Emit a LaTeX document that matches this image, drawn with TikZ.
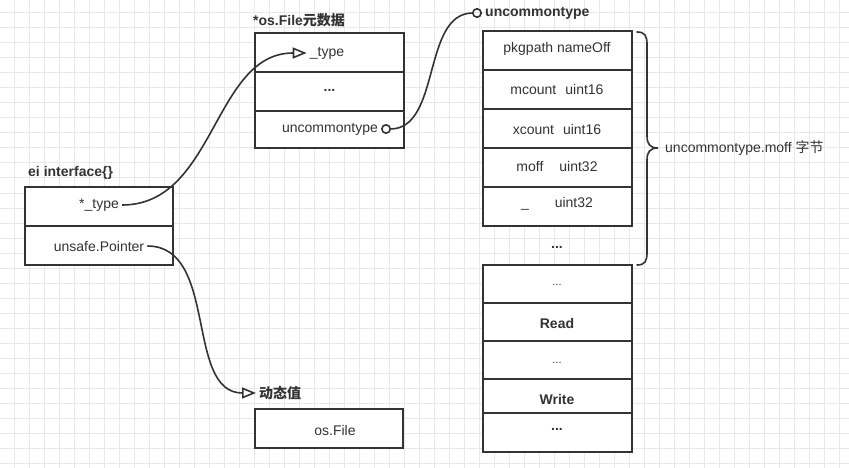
\documentclass[tikz,border=0pt]{standalone}
\usepackage{fontspec}
\setmainfont{Liberation Sans}
\newfontfamily\cjk{Noto Sans CJK SC}
\usetikzlibrary{arrows.meta}
\definecolor{linec}{HTML}{333333}
\definecolor{txtc}{HTML}{333333}
\definecolor{gridc}{HTML}{E8E8E8}

\begin{document}
\begin{tikzpicture}[x=1pt,y=-1pt,
    box/.style={draw=linec, line width=1.6pt, fill=white},
    lbl/.style={text=txtc, inner sep=3pt, font=\fontsize{14}{16}\selectfont},
    ttl/.style={text=txtc, inner sep=3pt, anchor=west, font=\fontsize{14}{16}\selectfont\bfseries},
    link/.style={draw=linec, line width=1.6pt}]
            \useasboundingbox (0,0) rectangle (849,468);
            %mriezka
            \fill[white] (0,0) rectangle (849,468);
            \foreach \x in {14,29,...,844} \draw[gridc, line width=1pt] (\x,0) -- (\x,468);
            \foreach \y in {13,28,...,463} \draw[gridc, line width=1pt] (0,\y) -- (849,\y);

            %ei interface{}
            \node[ttl] (eil) at (25,173) {ei interface\{\}};
            \draw[box] (25,187) rectangle (173,226);
            \draw[box] (25,226) rectangle (173,265);
            \node[lbl] (ety) at (99,205) {*\_type};
            \node[lbl] (eptr) at (99,246) {unsafe.Pointer};

            %*os.File元数据
            \node[ttl] (ofl) at (250,20) {*os.File{\cjk 元数据}};
            \draw[box] (255,33) rectangle (404,72);
            \draw[box] (255,72) rectangle (404,111);
            \draw[box] (255,111) rectangle (404,148);
            \node[lbl] (oty) at (327,53) {\_type};
            \node[lbl] (odot) at (329.5,90) {\textbf{...}};
            \node[lbl] (ouc) at (330,129) {uncommontype};

            %uncommontype
            \node[ttl] (ucl) at (482,13) {uncommontype};
            \draw[box] (483,31) rectangle (632,70);
            \draw[box] (483,70) rectangle (632,109);
            \draw[box] (483,109) rectangle (632,148);
            \draw[box] (483,148) rectangle (632,187);
            \draw[box] (483,187) rectangle (632,226);
            \node[lbl] (upk) at (557,49) {pkgpath nameOff};
            \node[lbl] (umc) at (557,89) {mcount\hspace{9pt}uint16};
            \node[lbl] (uxc) at (557,129) {xcount\hspace{9pt}uint16};
            \node[lbl] (umo) at (557,166) {moff\hspace{16pt}uint32};
            \node[lbl] (uun) at (557,204) {\_\hspace{26pt}uint32};
            \node[lbl] (udot) at (557,247) {\textbf{...}};

            %zlozena zatvorka
            \draw[link, line cap=round] (637,32) .. controls (645,32) and (647,36) .. (647,44) -- (647,136)
                .. controls (647,144) and (650,148) .. (658,148) .. controls (650,148) and (647,152) .. (647,160)
                -- (647,253) .. controls (647,261) and (645,265) .. (637,265);
            \node[lbl, anchor=west] (brl) at (662,148) {uncommontype.moff {\cjk 字节}};

            %metody
            \draw[box] (483,265) rectangle (632,303);
            \draw[box] (483,303) rectangle (632,341);
            \draw[box] (483,341) rectangle (632,379);
            \draw[box] (483,379) rectangle (632,413);
            \draw[box] (483,413) rectangle (632,452);
            \node[lbl, font=\fontsize{11}{13}\selectfont] (md1) at (557,285) {...};
            \node[lbl] (mrd) at (557,323) {\textbf{Read}};
            \node[lbl, font=\fontsize{11}{13}\selectfont] (md2) at (557,363) {...};
            \node[lbl] (mwr) at (557,399) {\textbf{Write}};
            \node[lbl] (md3) at (557,429) {\textbf{...}};

            %动态值
            \node[ttl] (dvl) at (256,393) {{\cjk 动态值}};
            \draw[box] (255,409) rectangle (403,448);
            \node[lbl] (dvf) at (335,430) {os.File};

            %spojnice
            \draw[link, -{Triangle[open,length=14pt,width=11pt]}] (ety.east) to[out=0,in=180] (oty.west);
            \draw[link, {Circle[open,length=10pt]}-{Circle[open,length=10pt]}] (ouc.east) to[out=0,in=180] (ucl.west);
            \draw[link, -{Triangle[open,length=14pt,width=11pt]}] (eptr.east) to[out=0,in=180] (dvl.west);
\end{tikzpicture}
\end{document}
